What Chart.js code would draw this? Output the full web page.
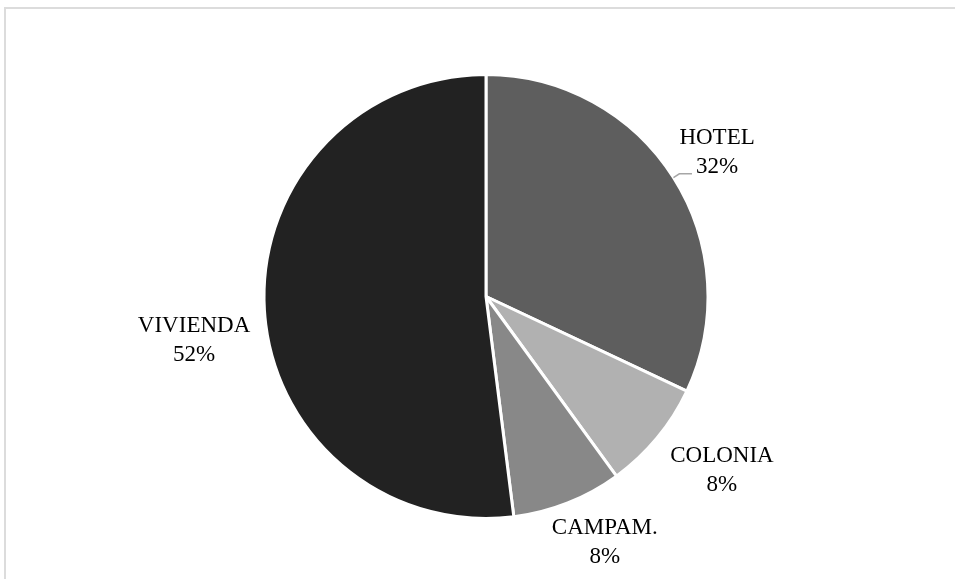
<!DOCTYPE html>
<html>
<head>
<meta charset="utf-8">
<title>Distribución por tipo</title>
<script src="https://cdn.jsdelivr.net/npm/chart.js@4/dist/chart.umd.min.js"></script>
<style>
  html, body { margin: 0; padding: 0; background: #fff; overflow: hidden; }
  #frame {
    position: absolute; left: 4px; top: 7px;
    width: 1000px; height: 1000px;
    border: 2px solid #dcdcdc;
  }
  #pie { position: absolute; left: 0; top: 0; }
</style>
</head>
<body>
<div id="frame"></div>
<canvas id="pie" width="955" height="579"></canvas>
<script>
const categories = ['HOTEL', 'COLONIA', 'CAMPAM.', 'VIVIENDA'];
const shares = [32, 8, 8, 52];
const sliceColors = ['#5e5e5e', '#b1b1b1', '#888888', '#222222'];

// label placement: distance from centre (in radii) and angle shift (deg) from slice middle
const labelDist = [1.23, 1.317, 1.225, 1.329];
const labelShift = [0.2, -3.4, -4.3, -4.7];
const labelLeader = [true, false, false, false];

const pieLabels = {
  id: 'pieLabels',
  afterDatasetsDraw(chart) {
    const ctx = chart.ctx;
    const meta = chart.getDatasetMeta(0);
    const total = shares.reduce((a, b) => a + b, 0);
    ctx.save();
    ctx.font = '23px "Liberation Serif", "Times New Roman", serif';
    ctx.fillStyle = '#000';
    ctx.textAlign = 'center';
    ctx.textBaseline = 'alphabetic';
    const lineH = 29, capH = 15;
    meta.data.forEach((arc, i) => {
      const { x, y, startAngle, endAngle, outerRadius } = arc.getProps(['x', 'y', 'startAngle', 'endAngle', 'outerRadius'], true);
      const mid = (startAngle + endAngle) / 2;
      const a = mid + labelShift[i] * Math.PI / 180;
      const lx = x + Math.cos(a) * outerRadius * labelDist[i];
      const ly = y + Math.sin(a) * outerRadius * labelDist[i];
      const pct = Math.round(shares[i] / total * 100) + '%';
      const base1 = ly - lineH / 2 + capH / 2;
      ctx.fillText(categories[i], lx, base1);
      ctx.fillText(pct, lx, base1 + lineH);

      if (labelLeader[i]) {
        const sx = x + Math.cos(mid) * outerRadius;
        const sy = y + Math.sin(mid) * outerRadius;
        const ex = x + Math.cos(mid) * (outerRadius + 7);
        const ey = y + Math.sin(mid) * (outerRadius + 7);
        const textW = ctx.measureText(pct).width;
        const endX = lx - textW / 2 - 4;
        ctx.strokeStyle = '#a6a6a6';
        ctx.lineWidth = 1.5;
        ctx.beginPath();
        ctx.moveTo(sx, sy);
        ctx.lineTo(ex, ey);
        ctx.lineTo(endX, ey);
        ctx.stroke();
      }
    });
    ctx.restore();
  }
};

new Chart(document.getElementById('pie'), {
  type: 'pie',
  data: {
    labels: categories,
    datasets: [{
      data: shares,
      backgroundColor: sliceColors,
      borderColor: '#ffffff',
      borderWidth: 3
    }]
  },
  options: {
    responsive: false,
    animation: false,
    layout: { padding: { left: 200, right: 183, top: 73, bottom: 59 } },
    plugins: {
      legend: { display: false },
      tooltip: { enabled: false }
    }
  },
  plugins: [pieLabels]
});
</script>
</body>
</html>
